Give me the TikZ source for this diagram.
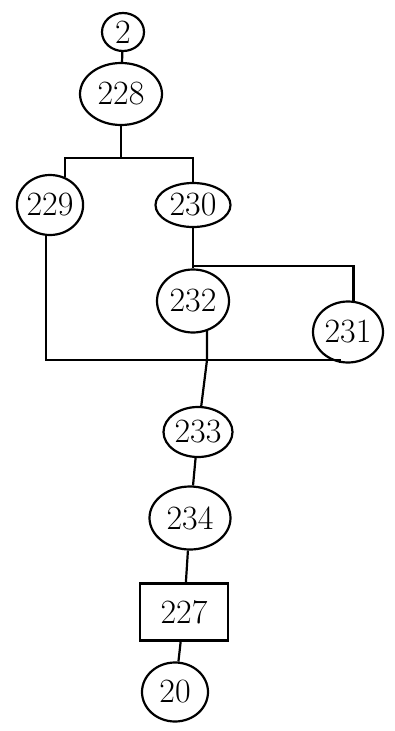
\documentclass[tikz,border=0pt]{standalone}
\usepackage{tikz}
\usetikzlibrary{shapes.geometric, positioning, calc}

\begin{document}
\begin{tikzpicture}[x=1pt, y=-1pt,
        bubble/.style={ellipse, draw=black, line width=2.2pt, inner sep=0pt, font=\fontsize{34}{38}\selectfont},
        tag/.style={rectangle, draw=black, line width=2.2pt, inner sep=0pt, font=\fontsize{34}{38}\selectfont},
        link/.style={draw=black, line width=2.2pt}
    ]
        \useasboundingbox (0,0) rectangle (394,731);

        % Nodos de la cadena superior
        \node [bubble, minimum width=42pt, minimum height=38pt] (n2) at (123,32) {2};
        \node [bubble, minimum width=82pt, minimum height=62pt] (n228) at (121,94) {228};
        \node [bubble, minimum width=65pt, minimum height=60pt] (n229) at (50,205) {229};
        \node [bubble, minimum width=75pt, minimum height=44pt] (n230) at (193,205) {230};
        \node [bubble, minimum width=72pt, minimum height=63pt] (n232) at (193,301) {232};
        \node [bubble, minimum width=70pt, minimum height=61pt] (n231) at (348,332) {231};

        % Nodos de la cadena inferior
        \node [bubble, minimum width=69pt, minimum height=50pt] (n233) at (198,432) {233};
        \node [bubble, minimum width=81pt, minimum height=63pt] (n234) at (190,518) {234};
        \node [tag, minimum width=88pt, minimum height=57pt] (n227) at (184,612) {227};
        \node [bubble, minimum width=66pt, minimum height=59pt] (n20) at (175,692) {20};

        % Puntos de bifurcacion y union
        \coordinate (fork1) at (121,158);
        \coordinate (fork2) at (193,266);
        \coordinate (join) at (207,360);

        % Conexiones
        \draw [link] (n2) -- (n228);
        \draw [link] (n228) -- (fork1);
        \draw [link] (n229.62) |- (fork1) -| (n230.north);
        \draw [link] (n230) -- (fork2) -- (n232);
        \draw [link] (fork2) -| (n231.80);
        \draw [link] (n229.-97) |- (join) -| (n231.-105);
        \draw [link] (n232.-65) -- (join) -- (n233);
        \draw [link] (n233) -- (n234);
        \draw [link] (n234) -- (n227);
        \draw [link] (n227) -- (n20);
    \end{tikzpicture}
\end{document}
